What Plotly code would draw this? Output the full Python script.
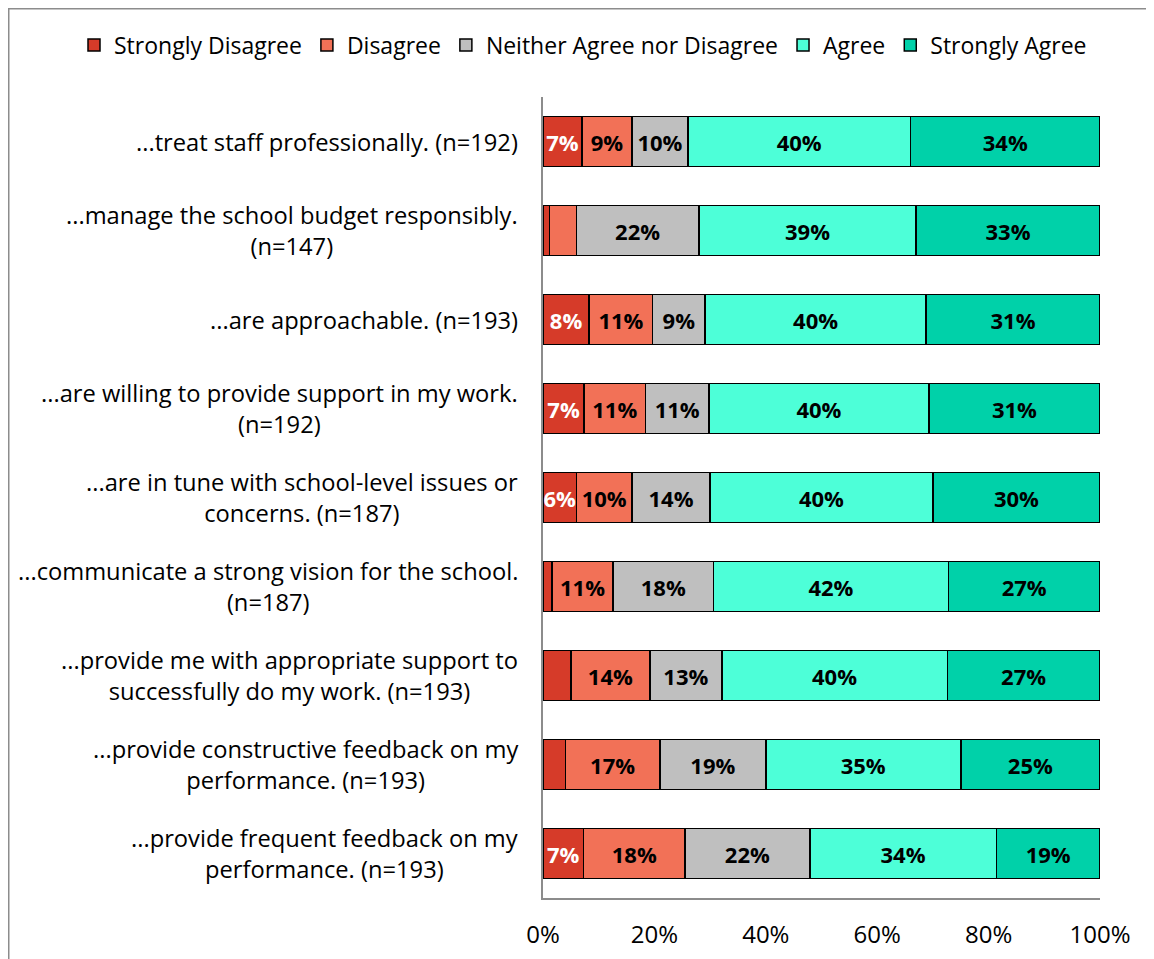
import plotly.graph_objects as go

categories = [
    "...treat staff professionally. (n=192)",
    "...manage the school budget responsibly.<br>(n=147)",
    "...are approachable. (n=193)",
    "...are willing to provide support in my work.<br>(n=192)",
    "...are in tune with school-level issues or<br>concerns. (n=187)",
    "...communicate a strong vision for the school.<br>(n=187)",
    "...provide me with appropriate support to<br>successfully do my work. (n=193)",
    "...provide constructive feedback on my<br>performance. (n=193)",
    "...provide frequent feedback on my<br>performance. (n=193)",
]
series_names = ["Strongly Disagree", "Disagree", "Neither Agree nor Disagree", "Agree", "Strongly Agree"]
strongly_disagree = [7.0, 1.2, 8.3, 7.4, 6.0, 1.6, 5.0, 4.0, 7.3]
disagree = [9.0, 4.8, 11.4, 11.0, 10.0, 11.0, 14.2, 17.0, 18.2]
neither = [10.0, 22.0, 9.4, 11.4, 14.0, 18.0, 12.9, 19.0, 22.4]
agree = [40.0, 39.0, 39.7, 39.5, 40.0, 42.2, 40.5, 35.0, 33.5]
strongly_agree = [34.0, 33.0, 31.2, 30.7, 30.0, 27.2, 27.4, 25.0, 18.6]
tick_vals = [0, 20, 40, 60, 80, 100]
tick_text = ["0%", "20%", "40%", "60%", "80%", "100%"]

colors = ["#D63B29", "#F27157", "#BFBFBF", "#4DFFD8", "#00D1A9"]
text_colors = ["white", "black", "black", "black", "black"]
FONT = "Open Sans"

W, H = 1146, 951          # page has an 8px body margin
L, R, T, B = 535, 54, 89, 61
PW, PH = W - L - R, H - T - B

fig = go.Figure()
for name, vals, col, tcol in zip(series_names,
                                 [strongly_disagree, disagree, neither, agree, strongly_agree],
                                 colors, text_colors):
    fig.add_trace(go.Bar(
        y=categories, x=vals, name=name, orientation="h",
        marker=dict(color=col, line=dict(color="black", width=1.5)),
        text=[f"{round(v)}%" if v >= 5.5 else "" for v in vals],
        textposition="inside", insidetextanchor="middle", textangle=0,
        textfont=dict(family=FONT, size=22, color=tcol, weight="bold"),
        cliponaxis=False,
    ))

for c in categories:
    fig.add_annotation(x=-23 / PW, xref="paper", y=c, yref="y", text=c,
                       xanchor="right", yanchor="middle", align="center",
                       showarrow=False, font=dict(family=FONT, size=23.7, color="black"))

# chart border (left and top edges visible)
fig.add_shape(type="rect", xref="paper", yref="paper",
              x0=(0.5 - L) / PW, x1=1.3, y0=-0.3, y1=(PH + T - 0.5) / PH,
              line=dict(color="#8C8C8C", width=2), layer="below")

fig.update_layout(
    width=W, height=H,
    barmode="stack", barnorm="percent", bargap=0.44,
    margin=dict(l=L, r=R, t=T, b=B, autoexpand=False),
    plot_bgcolor="white", paper_bgcolor="white",
    font=dict(family=FONT, size=23, color="black"),
    uniformtext=dict(mode="show", minsize=22),
    showlegend=True,
    legend=dict(orientation="h", xref="paper", yref="paper",
                x=(66 - L) / PW, xanchor="left", y=(PH + T - 37) / PH, yanchor="middle",
                font=dict(family=FONT, size=23, color="black"), traceorder="normal",
                itemwidth=30, tracegroupgap=0, bgcolor="rgba(0,0,0,0)"),
    xaxis=dict(range=[0, 100], tickvals=tick_vals, ticktext=tick_text, showgrid=False,
               zeroline=False, showline=True, linecolor="#8C8C8C", linewidth=2,
               ticks="", ticklabelstandoff=14, tickfont=dict(family=FONT, size=24, color="black")),
    yaxis=dict(autorange="reversed", showticklabels=False, showgrid=False, zeroline=False,
               showline=True, linecolor="#8C8C8C", linewidth=2, ticks=""),
)

fig.write_html("out.html")
